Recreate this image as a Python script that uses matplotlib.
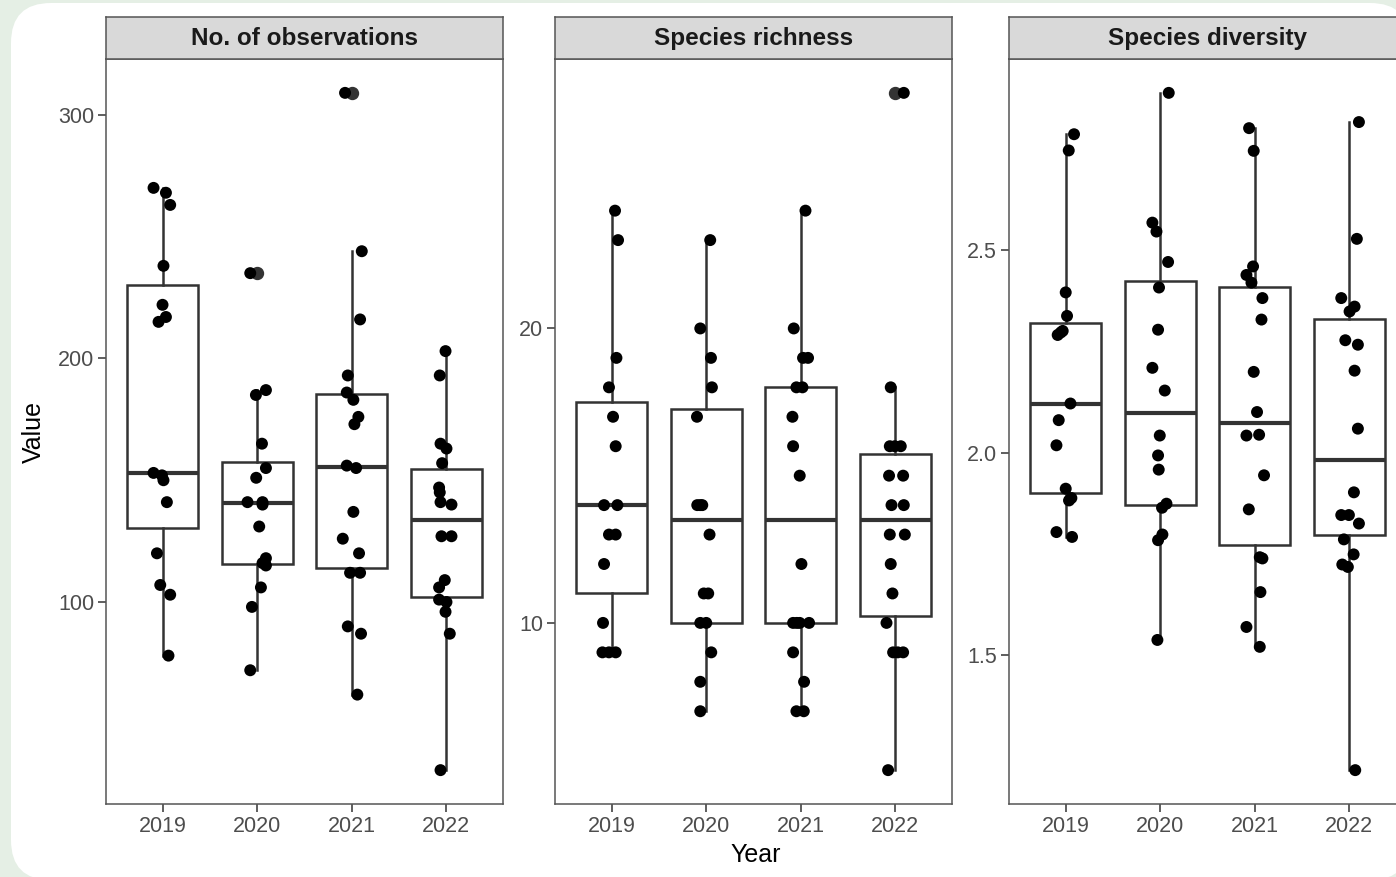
import matplotlib
matplotlib.use("Agg")
import matplotlib.pyplot as plt
from matplotlib.patches import FancyBboxPatch
from matplotlib.transforms import IdentityTransform
import numpy as np

plt.rcParams['font.family'] = ['Liberation Sans', 'DejaVu Sans']

# ---------------- data ----------------
years = ['2019', '2020', '2021', '2022']
panel_titles = ['No. of observations', 'Species richness', 'Species diversity']
y_ticks_obs = [100, 200, 300]
y_ticks_rich = [10, 20]
y_ticks_div = [1.5, 2.0, 2.5]

obs_2019 = [270, 268, 263, 238, 222, 217, 215, 153, 152, 150, 141, 120, 107, 103, 78]
obs_2020 = [235, 187, 185, 165, 155, 151, 141, 141, 140, 131, 118, 116, 115, 106, 98, 72]
obs_2021 = [309, 244, 216, 193, 186, 183, 176, 173, 156, 155, 137, 126, 120, 112, 112, 90, 87, 62]
obs_2022 = [203, 193, 165, 163, 157, 147, 145, 141, 140, 127, 127, 109, 106, 101, 100, 96, 87, 31]

rich_2019 = [24, 23, 19, 18, 17, 16, 14, 14, 13, 13, 12, 10, 9, 9, 9]
rich_2020 = [23, 20, 19, 18, 17, 14, 14, 14, 13, 11, 11, 10, 10, 9, 8, 7]
rich_2021 = [24, 20, 19, 19, 18, 18, 17, 16, 15, 12, 10, 10, 10, 10, 9, 8, 7, 7]
rich_2022 = [28, 18, 16, 16, 16, 15, 15, 14, 14, 13, 13, 12, 11, 10, 9, 9, 9, 5]

div_2019 = [2.785, 2.745, 2.395, 2.337, 2.300, 2.296, 2.290, 2.121, 2.080, 2.018, 1.911, 1.888, 1.882, 1.804, 1.792]
div_2020 = [2.887, 2.567, 2.545, 2.470, 2.407, 2.303, 2.209, 2.153, 2.042, 1.993, 1.958, 1.874, 1.864, 1.798, 1.784, 1.538]
div_2021 = [2.800, 2.744, 2.459, 2.438, 2.419, 2.381, 2.328, 2.199, 2.100, 2.044, 2.042, 1.944, 1.860, 1.742, 1.739, 1.656, 1.570, 1.521]
div_2022 = [2.815, 2.527, 2.381, 2.360, 2.348, 2.277, 2.266, 2.202, 2.059, 1.902, 1.846, 1.846, 1.825, 1.786, 1.749, 1.724, 1.718, 1.217]

# horizontal jitter of each point (category units)
obs_2019_dx = [-0.097, 0.034, 0.079, 0.008, -0.002, 0.034, -0.044, -0.097, -0.008, 0.008, 0.044, -0.061, -0.026, 0.079, 0.061]
obs_2020_dx = [-0.074, 0.092, -0.014, 0.050, 0.092, -0.011, -0.103, 0.056, 0.056, 0.021, 0.092, 0.056, 0.092, 0.039, -0.056, -0.074]
obs_2021_dx = [-0.071, 0.106, 0.088, -0.042, -0.053, 0.017, 0.070, 0.028, -0.053, 0.046, 0.017, -0.095, 0.077, -0.018, 0.088, -0.042, 0.098, 0.059]
obs_2022_dx = [-0.008, -0.069, -0.061, 0.002, -0.044, -0.076, -0.069, -0.061, 0.055, -0.051, 0.055, -0.016, -0.076, -0.076, 0.002, -0.008, 0.037, -0.061]

rich_2019_dx = [0.035, 0.067, 0.050, -0.029, 0.014, 0.042, -0.081, 0.060, -0.029, 0.042, -0.081, -0.092, -0.098, -0.029, 0.042]
rich_2020_dx = [0.042, -0.063, 0.050, 0.060, -0.098, -0.095, -0.063, -0.042, 0.035, -0.026, 0.021, -0.063, 0.0, 0.053, -0.063, -0.063]
rich_2021_dx = [0.050, -0.074, 0.024, 0.077, -0.046, 0.018, -0.088, -0.081, -0.011, 0.007, -0.081, -0.042, -0.011, 0.088, -0.081, 0.035, -0.046, 0.032]
rich_2022_dx = [0.090, -0.048, -0.058, -0.005, 0.058, -0.066, 0.083, -0.040, 0.090, -0.058, 0.101, -0.048, -0.030, -0.093, -0.023, 0.026, 0.083, -0.076]

div_2019_dx = [0.088, 0.032, 0.0, 0.014, -0.032, -0.053, -0.085, 0.050, -0.074, -0.098, 0.0, 0.060, 0.035, -0.098, 0.067]
div_2020_dx = [0.090, -0.083, -0.040, 0.083, -0.013, -0.023, -0.083, 0.048, -0.005, -0.023, -0.016, 0.066, 0.019, 0.023, -0.023, -0.030]
div_2021_dx = [-0.060, -0.011, -0.018, -0.088, -0.035, 0.081, 0.071, -0.011, 0.024, 0.046, -0.088, 0.098, -0.063, 0.053, 0.081, 0.060, -0.088, 0.053]
div_2022_dx = [0.102, 0.080, -0.085, 0.056, 0.003, -0.042, 0.091, 0.056, 0.091, 0.049, -0.085, -0.004, 0.102, -0.057, 0.046, -0.074, -0.015, 0.063]

panels = [
    ([obs_2019, obs_2020, obs_2021, obs_2022],
     [obs_2019_dx, obs_2020_dx, obs_2021_dx, obs_2022_dx], y_ticks_obs, '{:.0f}'),
    ([rich_2019, rich_2020, rich_2021, rich_2022],
     [rich_2019_dx, rich_2020_dx, rich_2021_dx, rich_2022_dx], y_ticks_rich, '{:.0f}'),
    ([div_2019, div_2020, div_2021, div_2022],
     [div_2019_dx, div_2020_dx, div_2021_dx, div_2022_dx], y_ticks_div, '{:.1f}'),
]

# ---------------- figure ----------------
W, H = 1396, 877
fig = plt.figure(figsize=(W / 100, H / 100), dpi=100)
fig.patch.set_facecolor('#e5efe5')

card = FancyBboxPatch((11, -3), 1399, 877, boxstyle="round,pad=0,rounding_size=40",
                      transform=IdentityTransform(), facecolor='white', edgecolor='none',
                      zorder=-5)
fig.patches.append(card)

panel_left = [106, 555, 1009]
panel_w = 397
panel_top, panel_bottom = 59, 804
strip_top = 17

dark = '#333333'
border = '#555555'
pos = np.arange(1, 5)

for i, (series, jit, yt, fmt) in enumerate(panels):
    l = panel_left[i]
    ax = fig.add_axes([l / W, 1 - panel_bottom / H, panel_w / W, (panel_bottom - panel_top) / H])
    ax.set_facecolor('white')
    ax.set_zorder(2)

    ax.boxplot(series, positions=pos, widths=0.75, whis=1.5, patch_artist=True,
               showcaps=False,
               boxprops=dict(facecolor='white', edgecolor=dark, linewidth=1.8),
               whiskerprops=dict(color=dark, linewidth=1.8),
               medianprops=dict(color=dark, linewidth=3.0, solid_capstyle='butt'),
               flierprops=dict(marker='o', markerfacecolor=dark, markeredgecolor=dark,
                               markersize=8.6, linestyle='none'))

    for k in range(4):
        xs = pos[k] + np.array(jit[k])
        ax.scatter(xs, series[k], s=74, color='black', edgecolors='none', zorder=5)

    allv = np.concatenate([np.array(s, dtype=float) for s in series])
    lo, hi = allv.min(), allv.max()
    pad = (hi - lo) * 0.05
    ax.set_ylim(lo - pad, hi + pad)
    ax.set_xlim(0.4, 4.6)
    ax.set_xticks(pos)
    ax.set_xticklabels(years)
    ax.set_yticks(yt)
    ax.set_yticklabels([fmt.format(v) for v in yt])
    ax.tick_params(axis='both', length=5.5, width=1.1, color=dark, labelcolor='#4d4d4d',
                   labelsize=15.5, pad=3)
    for sp in ax.spines.values():
        sp.set_color(border)
        sp.set_linewidth(1.1)

    # facet strip
    sax = fig.add_axes([l / W, 1 - panel_top / H, panel_w / W, (panel_top - strip_top) / H])
    sax.set_zorder(3)
    sax.set_facecolor('#d9d9d9')
    sax.set_xticks([])
    sax.set_yticks([])
    for sp in sax.spines.values():
        sp.set_color(border)
        sp.set_linewidth(1.1)
    sax.text(0.5, 0.48, panel_titles[i], transform=sax.transAxes, ha='center', va='center',
             fontsize=17.5, fontweight='bold', color='#1a1a1a')

fig.text(34 / W, 1 - 432 / H, 'Value', rotation=90, ha='center', va='center',
         fontsize=18, color='black')
fig.text(756 / W, 1 - 855 / H, 'Year', ha='center', va='center', fontsize=18, color='black')

fig.savefig('out.png', dpi=100, facecolor=fig.get_facecolor())
